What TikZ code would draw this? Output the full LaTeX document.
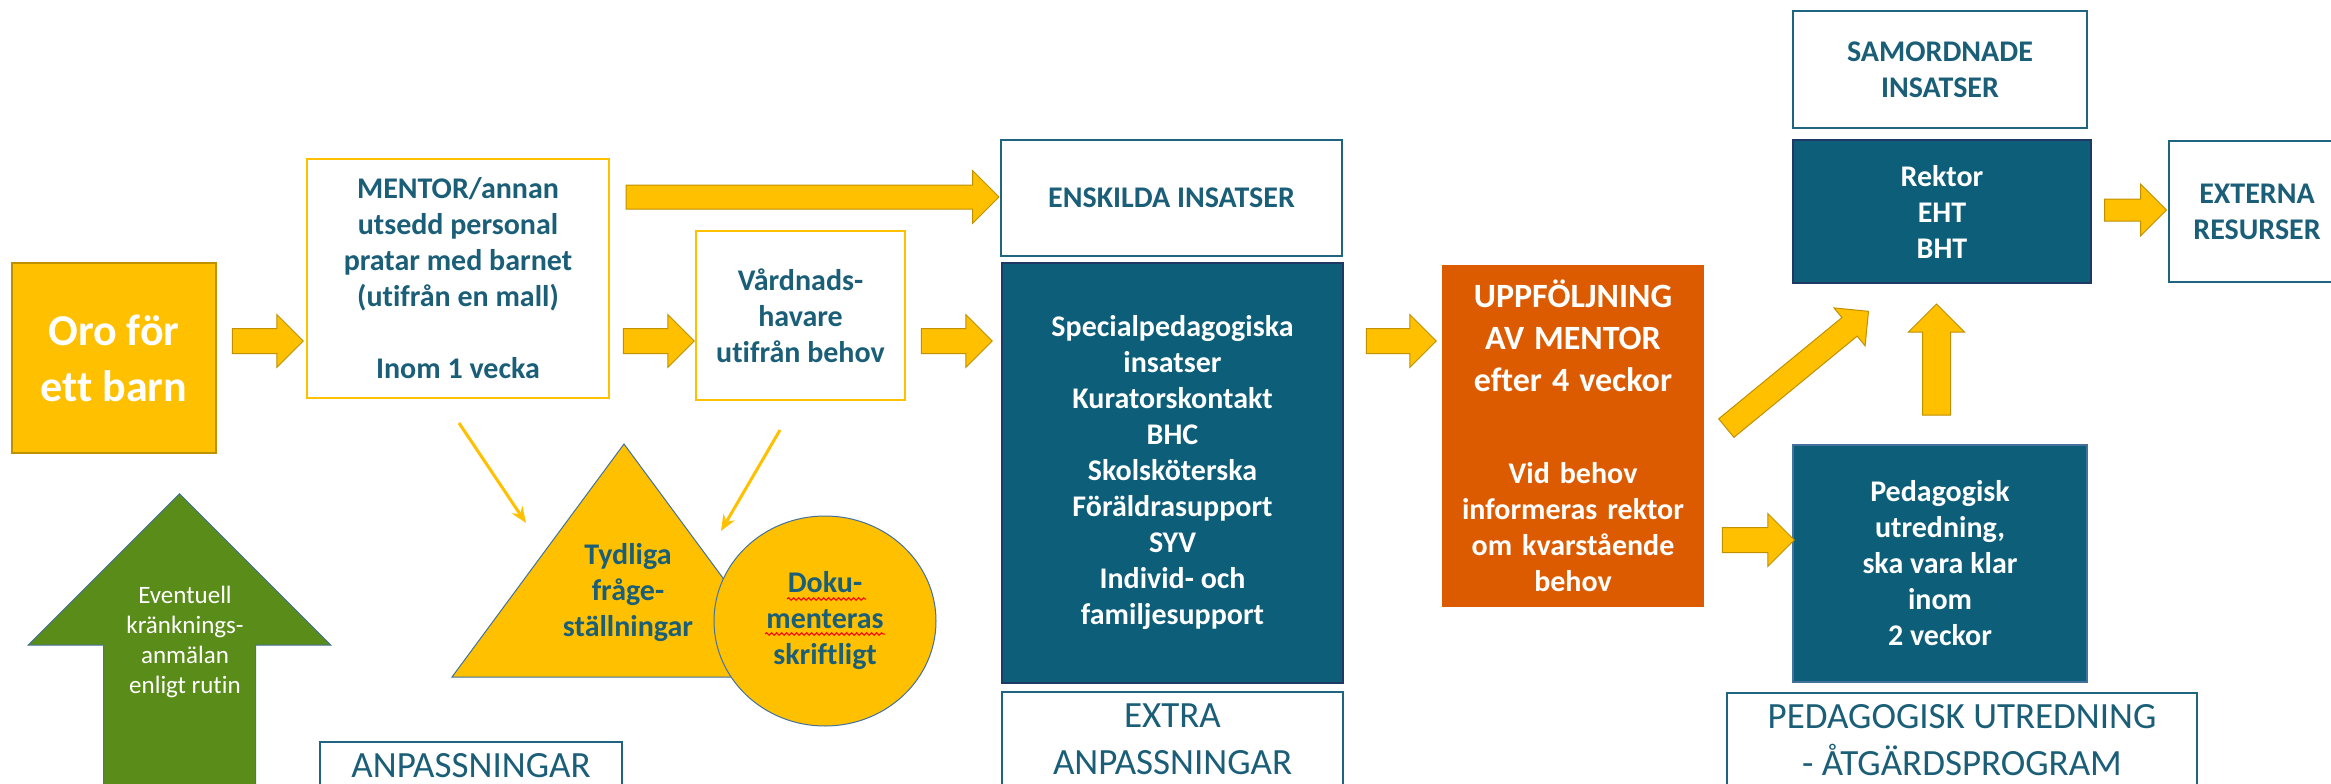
\documentclass[tikz,border=0pt]{standalone}
\usepackage{fontspec}
\setmainfont[Ligatures=NoCommon]{Carlito}
\usepackage{tikz}
\usetikzlibrary{positioning, shapes.arrows, shapes.geometric, arrows.meta, decorations.pathmorphing}

\definecolor{gul}{HTML}{FFC000}
\definecolor{gulkant}{HTML}{BF9000}
\definecolor{petrol}{HTML}{0C5E79}
\definecolor{marin}{HTML}{203864}
\definecolor{bltext}{HTML}{1B5E78}
\definecolor{kant}{HTML}{1F6580}
\definecolor{blkant}{HTML}{41719C}
\definecolor{orng}{HTML}{DD5B00}
\definecolor{gron}{HTML}{5A8C1A}

\begin{document}
\begin{tikzpicture}[x=1pt, y=-1pt,
    vit/.style = {draw=gul, line width=2pt, fill=white, text=bltext, align=center, inner sep=0pt, font=\bfseries\fontsize{30}{36}\selectfont},
    ram/.style = {vit, draw=kant},
    mork/.style = {draw=marin, line width=1.5pt, fill=petrol, text=white, align=center, inner sep=0pt, font=\bfseries\fontsize{30}{36}\selectfont},
    etikett/.style = {draw=kant, line width=2pt, fill=white, text=bltext, align=center, inner sep=0pt, font=\fontsize{37}{47}\selectfont},
    pil/.style = {single arrow, draw=gulkant, fill=gul, line width=1pt, inner xsep=0pt, inner ysep=12pt, single arrow head extend=14pt, minimum height=#1},
    tunn/.style = {draw=gul, line width=3pt, -{Stealth[length=16pt, width=13pt]}},
    krusel/.style = {draw=red, line width=1pt, decorate, decoration={snake, amplitude=1.3pt, segment length=5pt}}
    ]
    \useasboundingbox (0,0) rectangle (2331,784);
    \clip (0,0) rectangle (2331,784);

    \node[vit, draw=gulkant, fill=gul, text=white, line width=1.5pt, minimum width=204pt, minimum height=190pt, font=\bfseries\fontsize{44}{56}\selectfont] (oro) at (114,358) {Oro för\\ett barn};
    \node[vit, minimum width=302pt, minimum height=239pt] (mentor) at (458,278.5) {MENTOR/annan\\utsedd personal\\pratar med barnet\\(utifrån en mall)\\[36pt]Inom 1 vecka};
    \node[vit, minimum width=209pt, minimum height=169pt] (vard) at (800.5,315.5) {Vårdnads-\\havare\\utifrån behov};
    \node[ram, minimum width=341pt, minimum height=116pt] (enskilda) at (1171.5,198) {ENSKILDA INSATSER};
    \node[mork, minimum width=341pt, minimum height=420pt] (extra) at (1172.5,473) {Specialpedagogiska\\insatser\\Kuratorskontakt\\BHC\\Skolsköterska\\Föräldrasupport\\SYV\\Individ- och\\familjesupport};
    \node[etikett, minimum width=341pt, minimum height=95pt, below=7pt of extra] (extralbl) {EXTRA\\ANPASSNINGAR};
    \node[mork, draw=orng, fill=orng, minimum width=260pt, minimum height=340pt, text width=256pt] (uppf) at (1573,436) {{\fontsize{34}{42}\selectfont UPPFÖLJNING\\AV MENTOR\\efter 4 veckor\par}\vskip 56pt Vid behov\\informeras rektor\\om kvarstående\\behov};
    \node[ram, minimum width=294pt, minimum height=117pt] (samord) at (1940,69.5) {SAMORDNADE\\INSATSER};
    \node[mork, minimum width=298pt, minimum height=143pt] (rektor) at (1942,211.5) {Rektor\\EHT\\BHT};
    \node[ram, minimum width=176pt, minimum height=141pt] (externa) at (2257,211.5) {EXTERNA\\RESURSER};
    \node[mork, draw=blkant, minimum width=294pt, minimum height=237pt] (ped) at (1940,563.5) {Pedagogisk\\utredning,\\ska vara klar\\inom\\2 veckor};
    \node[etikett, minimum width=470pt, minimum height=95pt, below=9pt of ped, xshift=22pt] (pedlbl) {PEDAGOGISK UTREDNING\\- ÅTGÄRDSPROGRAM};
    \node[etikett, minimum width=302pt, minimum height=48pt, anchor=north] (anplbl) at (471,741) {ANPASSNINGAR};

    \coordinate (tspets) at (624,444);
    \coordinate (tvanster) at (452,677);
    \coordinate (thoger) at (796,677);
    \filldraw[fill=gul, draw=blkant, line width=1pt] (tspets) -- (tvanster) -- (thoger) -- cycle;
    \node[text=bltext, align=center, font=\bfseries\fontsize{30}{36}\selectfont] (fraga) at (628,592.5) {Tydliga\\fråge-\\ställningar};
    \node[ellipse, fill=gul, draw=blkant, line width=1pt, minimum width=222pt, minimum height=210pt, inner sep=0pt, text=bltext, align=center, font=\bfseries\fontsize{30}{36}\selectfont] (dok) at (825,621) {Doku-\\menteras\\skriftligt};
    \draw[krusel] (787,599) -- (866,599);
    \draw[krusel] (765,634) -- (885,634);

    \coordinate (m1) at (459,423);
    \coordinate (t1) at (526,523);
    \coordinate (v1) at (780,430);
    \coordinate (t2) at (721,531);
    \draw[tunn] (m1) -- (t1);
    \draw[tunn] (v1) -- (t2);

    \node[single arrow, draw=blkant, fill=gron, line width=1pt, inner xsep=0pt, inner ysep=75.5pt, single arrow head extend=75.5pt, minimum height=307pt, rotate=90, anchor=tip] (gronpil) at (179.5,493) {};
    \node[text=white, align=center, font=\fontsize{25}{30}\selectfont] (krank) at (185,641.5) {Eventuell\\kränknings-\\anmälan\\enligt rutin};

    \node[pil=71pt] (p1) at (261.5,341) {};
    \node[pil=373pt, inner ysep=11.5pt, single arrow head extend=14.5pt] (p2) at (806.5,197) {};
    \node[pil=71pt] (p3) at (652.5,341) {};
    \node[pil=71pt] (p4) at (950.5,341) {};
    \node[pil=70pt] (p5) at (1395,341) {};
    \node[pil=62pt, inner ysep=10.5pt, single arrow head extend=15pt] (p6) at (2130,210) {};
    \node[pil=72pt] (p7) at (1752,540) {};
    \node[pil=111pt, inner ysep=13.5pt, rotate=90] (p8) at (1936.5,366.5) {};
    \node[pil=184pt, inner ysep=11.5pt, single arrow head extend=12.5pt, rotate=39.4] (p9) at (1792.75,373.5) {};
\end{tikzpicture}
\end{document}
